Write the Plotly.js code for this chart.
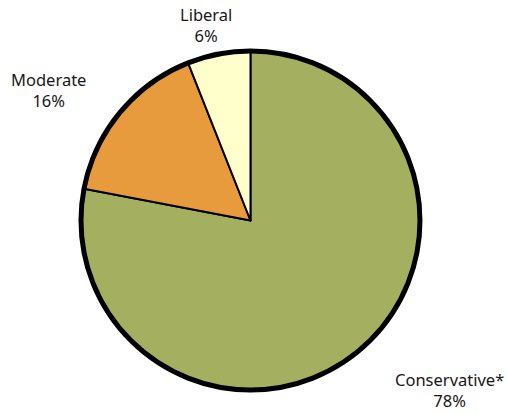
<!DOCTYPE html>
<html>
<head>
<meta charset="utf-8">
<script src="https://cdn.plot.ly/plotly-3.0.1.min.js"></script>
<style>html,body{margin:0;padding:0;background:#fff;}#chart{width:507px;height:414px;}</style>
</head>
<body>
<div id="chart"></div>
<script>
var categories = ["Conservative*", "Moderate", "Liberal"];
var shares = [78, 16, 6];
var sliceColors = ["#a4b060", "#e89b3c", "#ffffcc"];

var labelPos = [
  {x: 0.8866, y: 0.057},
  {x: 0.0947, y: 0.7826},
  {x: 0.4063, y: 0.9396}
];

var dom = {x: [0.1597, 0.8284], y: [0.0580, 0.8768]};

var pie = {
  type: "pie",
  labels: categories,
  values: shares,
  sort: false,
  direction: "clockwise",
  rotation: 0,
  marker: {colors: sliceColors, line: {color: "#000", width: 2}},
  textinfo: "none",
  hoverinfo: "label+percent",
  domain: dom,
  showlegend: false
};

var rim = {
  type: "pie",
  values: [1],
  labels: ["rim"],
  marker: {colors: ["rgba(0,0,0,0)"], line: {color: "#000", width: 5}},
  textinfo: "none",
  hoverinfo: "skip",
  domain: dom,
  showlegend: false
};

var total = shares.reduce(function(a, b){ return a + b; }, 0);
var annotations = categories.map(function(c, i){
  return {
    text: c + "<br>" + Math.round(shares[i] / total * 100) + "%",
    x: labelPos[i].x, y: labelPos[i].y,
    xref: "paper", yref: "paper",
    xanchor: "center", yanchor: "middle",
    showarrow: false,
    borderpad: 0,
    font: {family: "Noto Sans", size: 16.5, color: "#1a1718"}
  };
});

var layout = {
  width: 507, height: 414,
  margin: {l: 0, r: 0, t: 0, b: 0},
  paper_bgcolor: "#fff",
  annotations: annotations,
  showlegend: false
};

Plotly.newPlot("chart", [pie, rim], layout, {staticPlot: true, displayModeBar: false});
</script>
</body>
</html>
